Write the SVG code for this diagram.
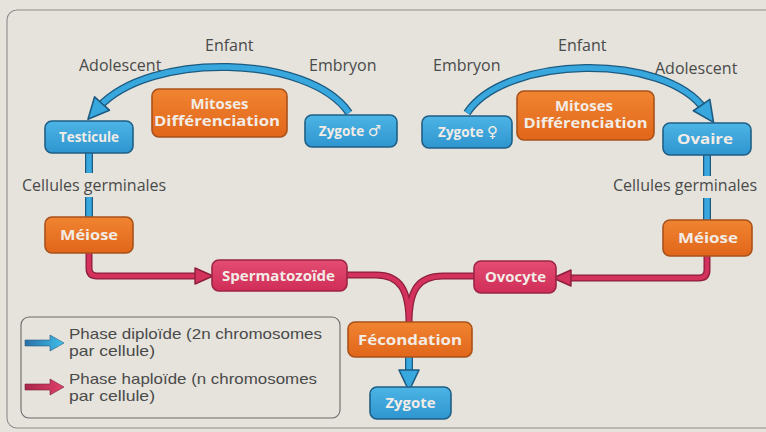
<svg xmlns="http://www.w3.org/2000/svg" width="766" height="432" viewBox="0 0 766 432">
  <defs>
    <style>
      .lbl { font-family: "Open Sans", "Liberation Sans", sans-serif; font-size: 16px; fill: #4a4a4a; }
      .leg { font-family: "Liberation Sans", Arial, sans-serif; font-size: 14.3px; fill: #4a4a4a; }
      .nt { font-family: "Open Sans", "Liberation Sans", sans-serif; font-size: 13.5px; font-weight: bold; fill: #f2ece6; text-anchor: middle; }
      .sym { font-family: "DejaVu Sans", sans-serif; font-size: 15px; font-weight: bold; }
      .blue { fill: url(#gBlue); stroke: #1f5f86; stroke-width: 1.6; }
      .orange { fill: url(#gOrange); stroke: #a9511b; stroke-width: 1.6; }
      .pink { fill: url(#gPink); stroke: #9c2545; stroke-width: 1.6; }
      .bOut { fill: none; stroke: #1d5a80; stroke-width: 8; }
      .bIn { fill: none; stroke: #38a7de; stroke-width: 5.5; }
      .pOut { fill: none; stroke: #8e1e3c; stroke-width: 7; }
      .pIn { fill: none; stroke: #d2325c; stroke-width: 4.5; }
    </style>
    <linearGradient id="gBlue" x1="0" y1="0" x2="0" y2="1">
      <stop offset="0" stop-color="#4db4e6"/>
      <stop offset="1" stop-color="#2f95cf"/>
    </linearGradient>
    <linearGradient id="gOrange" x1="0" y1="0" x2="0" y2="1">
      <stop offset="0" stop-color="#f08431"/>
      <stop offset="1" stop-color="#e1661a"/>
    </linearGradient>
    <linearGradient id="gPink" x1="0" y1="0" x2="0" y2="1">
      <stop offset="0" stop-color="#e44d73"/>
      <stop offset="1" stop-color="#cf2d57"/>
    </linearGradient>
    <linearGradient id="gLegB" x1="0" y1="0" x2="1" y2="0">
      <stop offset="0" stop-color="#2a6fa8"/>
      <stop offset="1" stop-color="#3fc0ea"/>
    </linearGradient>
    <linearGradient id="gLegP" x1="0" y1="0" x2="1" y2="0">
      <stop offset="0" stop-color="#a8284a"/>
      <stop offset="1" stop-color="#e0406a"/>
    </linearGradient>
    <marker id="hBlue" markerUnits="userSpaceOnUse" markerWidth="24" markerHeight="24" viewBox="0 0 24 24" refX="7" refY="12" orient="auto">
      <path d="M1,2 L22,12 L1,22 z" fill="#38a7de" stroke="#1d5a80" stroke-width="1.6" stroke-linejoin="round"/>
    </marker>
    <marker id="hPink" markerUnits="userSpaceOnUse" markerWidth="22" markerHeight="22" viewBox="0 0 22 22" refX="6" refY="11" orient="auto">
      <path d="M1,3 L19,11 L1,19 z" fill="#d2325c" stroke="#8e1e3c" stroke-width="1.4" stroke-linejoin="round"/>
    </marker>
  </defs>

  <!-- background and frame -->
  <rect x="0" y="0" width="766" height="432" fill="#e5e3dc"/>
  <rect x="7" y="10" width="770" height="418" rx="10" fill="none" stroke="#8d8d8d" stroke-width="1.1"/>

  <!-- connectors -->
  <g id="connectors">
    <!-- life arcs -->
    <path class="bOut" d="M349,113 C310,55 150,50 98,108"/>
    <path class="bIn" d="M349,113 C310,55 150,50 98,108" marker-end="url(#hBlue)"/>
    <path class="bOut" d="M467,113 C505,55 665,52 705,110"/>
    <path class="bIn" d="M467,113 C505,55 665,52 705,110" marker-end="url(#hBlue)"/>
    <!-- germ cell lines -->
    <path class="bOut" d="M89,152 V173 M89,197 V217"/>
    <path class="bIn" d="M89,152 V173 M89,197 V217"/>
    <path class="bOut" d="M707,155 V176 M707,198 V220"/>
    <path class="bIn" d="M707,155 V176 M707,198 V220"/>
    <!-- meiosis to gametes -->
    <path class="pOut" d="M89,253 V268 Q89,276 97,276 H200"/>
    <path class="pIn" d="M89,253 V268 Q89,276 97,276 H200" marker-end="url(#hPink)"/>
    <path class="pOut" d="M707,256 V270 Q707,278 699,278 H566"/>
    <path class="pIn" d="M707,256 V270 Q707,278 699,278 H566" marker-end="url(#hPink)"/>
    <!-- gametes to fertilisation -->
    <path class="pOut" d="M346,275 H376 C400,275 409,290 409,323 M474,276 H443 C418,276 409,290 409,323"/>
    <path class="pIn" d="M346,275 H376 C400,275 409,290 409,323 M474,276 H443 C418,276 409,290 409,323"/>
    <!-- fertilisation to zygote -->
    <path class="bOut" d="M409,357 V376"/>
    <path class="bIn" d="M409,357 V376" marker-end="url(#hBlue)"/>
  </g>

  <!-- stage labels -->
  <g id="labels">
    <text class="lbl" x="205" y="51">Enfant</text>
    <text class="lbl" x="79" y="71">Adolescent</text>
    <text class="lbl" x="309" y="71">Embryon</text>
    <text class="lbl" x="22" y="191">Cellules germinales</text>
    <text class="lbl" x="558" y="51">Enfant</text>
    <text class="lbl" x="433" y="71">Embryon</text>
    <text class="lbl" x="655" y="74">Adolescent</text>
    <text class="lbl" x="613" y="191">Cellules germinales</text>
  </g>

  <!-- nodes -->
  <g id="testicule"><rect class="blue" x="45" y="121" width="88" height="32" rx="7"/><text class="nt" x="89" y="142" textLength="60" lengthAdjust="spacingAndGlyphs">Testicule</text></g>
  <g id="mitoses-m"><rect class="orange" x="152" y="89" width="135" height="48" rx="7"/><text class="nt" x="219.5" y="109" textLength="58" lengthAdjust="spacingAndGlyphs">Mitoses</text><text class="nt" x="217" y="126" textLength="126" lengthAdjust="spacingAndGlyphs">Différenciation</text></g>
  <g id="zygote-m"><rect class="blue" x="305" y="115" width="92" height="32" rx="7"/><text class="nt" x="350" y="136">Zygote <tspan class="sym">♂</tspan></text></g>
  <g id="zygote-f"><rect class="blue" x="422" y="116" width="90" height="32" rx="7"/><text class="nt" x="468" y="137">Zygote <tspan class="sym">♀</tspan></text></g>
  <g id="mitoses-f"><rect class="orange" x="517" y="91" width="137" height="49" rx="7"/><text class="nt" x="584" y="111" textLength="58" lengthAdjust="spacingAndGlyphs">Mitoses</text><text class="nt" x="585.5" y="128" textLength="124" lengthAdjust="spacingAndGlyphs">Différenciation</text></g>
  <g id="ovaire"><rect class="blue" x="663" y="123" width="88" height="32" rx="7"/><text class="nt" x="705" y="144" textLength="56" lengthAdjust="spacingAndGlyphs">Ovaire</text></g>
  <g id="meiose-m"><rect class="orange" x="45" y="217" width="88" height="36" rx="7"/><text class="nt" x="89" y="240" textLength="58" lengthAdjust="spacingAndGlyphs">Méiose</text></g>
  <g id="meiose-f"><rect class="orange" x="663" y="220" width="89" height="36" rx="7"/><text class="nt" x="708" y="243" textLength="60" lengthAdjust="spacingAndGlyphs">Méiose</text></g>
  <g id="spermatozoide"><rect class="pink" x="212" y="260" width="135" height="31" rx="7"/><text class="nt" x="278.5" y="280.5" textLength="113" lengthAdjust="spacingAndGlyphs">Spermatozoïde</text></g>
  <g id="ovocyte"><rect class="pink" x="474" y="261" width="82" height="32" rx="7"/><text class="nt" x="515.5" y="282" textLength="61" lengthAdjust="spacingAndGlyphs">Ovocyte</text></g>
  <g id="fecondation"><rect class="orange" x="348" y="322" width="124" height="35" rx="7"/><text class="nt" x="410" y="344.5" textLength="104" lengthAdjust="spacingAndGlyphs">Fécondation</text></g>
  <g id="zygote"><rect class="blue" x="370" y="387" width="81" height="32" rx="7"/><text class="nt" x="410.5" y="408" textLength="50" lengthAdjust="spacingAndGlyphs">Zygote</text></g>

  <!-- legend -->
  <g id="legend">
    <rect x="21" y="317" width="319" height="101" rx="8" fill="none" stroke="#6a6a6a" stroke-width="1.1"/>
    <path d="M25,340 H50 V335 L64,343 L50,351 V346 H25 z" fill="url(#gLegB)" stroke="#2a5c80" stroke-width="0.6"/>
    <path d="M25,384 H50 V379 L64,387 L50,395 V390 H25 z" fill="url(#gLegP)" stroke="#7a1e38" stroke-width="0.6"/>
    <text class="leg" x="69" y="339" textLength="253" lengthAdjust="spacingAndGlyphs">Phase diploïde (2n chromosomes</text>
    <text class="leg" x="69" y="355.5" textLength="86" lengthAdjust="spacingAndGlyphs">par cellule)</text>
    <text class="leg" x="69" y="384" textLength="248" lengthAdjust="spacingAndGlyphs">Phase haploïde (n chromosomes</text>
    <text class="leg" x="69" y="400.5" textLength="86" lengthAdjust="spacingAndGlyphs">par cellule)</text>
  </g>
</svg>
